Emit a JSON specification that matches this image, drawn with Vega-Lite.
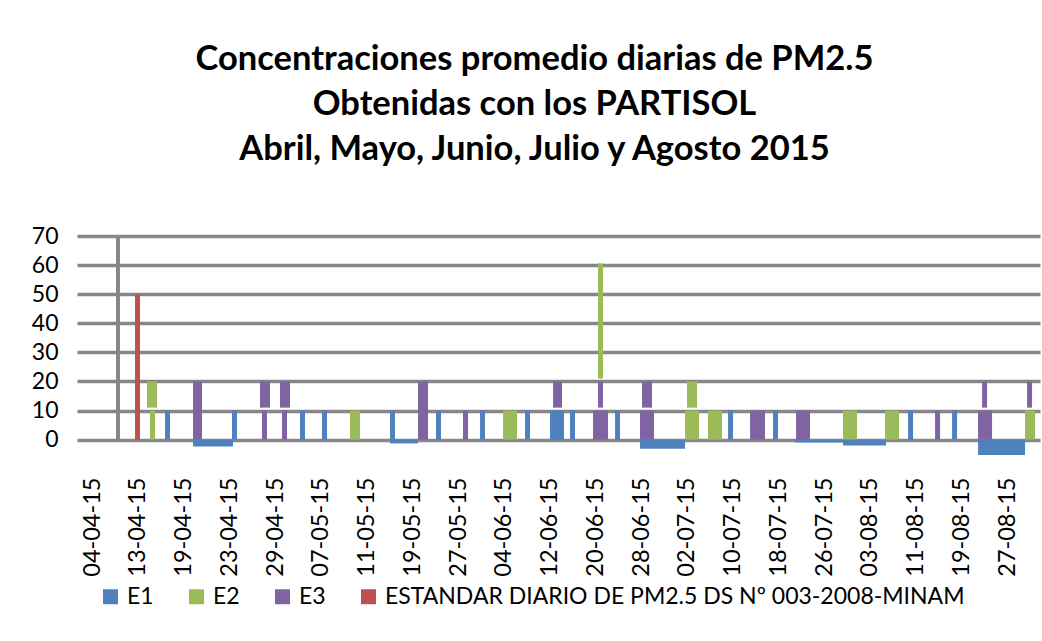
{
  "$schema": "https://vega.github.io/schema/vega-lite/v6.json",
  "autosize": "none",
  "width": 963,
  "height": 224,
  "padding": {"left": 77, "top": 236, "right": 2, "bottom": 181},
  "background": "white",
  "title": {
    "text": ["Concentraciones promedio diarias de PM2.5", "Obtenidas con los PARTISOL", "Abril, Mayo, Junio, Julio y Agosto 2015"],
    "font": "Lato",
    "fontWeight": "bold",
    "fontSize": 34.5,
    "lineHeight": 45,
    "color": "black",
    "anchor": "middle",
    "dx": -24,
    "offset": 58
  },
  "data": {
    "values": [
      {"serie": "ESTANDAR DIARIO DE PM2.5 DS Nº 003-2008-MINAM", "inicio": 0.94, "fin": 1.049, "bajo": 0, "alto": 50},
      {"serie": "E2", "inicio": 1.202, "fin": 1.421, "bajo": 11, "alto": 20},
      {"serie": "E2", "inicio": 1.268, "fin": 1.377, "bajo": 0, "alto": 10},
      {"serie": "E1", "inicio": 1.596, "fin": 1.705, "bajo": 0, "alto": 10},
      {"serie": "E3", "inicio": 2.208, "fin": 2.404, "bajo": 0, "alto": 20},
      {"serie": "E1", "inicio": 2.208, "fin": 3.082, "bajo": 0, "alto": -2.4},
      {"serie": "E1", "inicio": 3.06, "fin": 3.169, "bajo": 0, "alto": 10},
      {"serie": "E3", "inicio": 3.672, "fin": 3.891, "bajo": 11, "alto": 20},
      {"serie": "E3", "inicio": 3.716, "fin": 3.825, "bajo": 0, "alto": 10},
      {"serie": "E3", "inicio": 4.109, "fin": 4.328, "bajo": 11, "alto": 20},
      {"serie": "E3", "inicio": 4.153, "fin": 4.262, "bajo": 0, "alto": 10},
      {"serie": "E1", "inicio": 4.546, "fin": 4.656, "bajo": 0, "alto": 10},
      {"serie": "E1", "inicio": 5.027, "fin": 5.137, "bajo": 0, "alto": 10},
      {"serie": "E2", "inicio": 5.639, "fin": 5.858, "bajo": 0, "alto": 10},
      {"serie": "E1", "inicio": 6.514, "fin": 6.623, "bajo": 0, "alto": 10},
      {"serie": "E1", "inicio": 6.514, "fin": 7.126, "bajo": 0, "alto": -1.3},
      {"serie": "E3", "inicio": 7.126, "fin": 7.344, "bajo": 0, "alto": 20},
      {"serie": "E1", "inicio": 7.519, "fin": 7.628, "bajo": 0, "alto": 10},
      {"serie": "E3", "inicio": 8.109, "fin": 8.219, "bajo": 0, "alto": 10},
      {"serie": "E1", "inicio": 8.481, "fin": 8.59, "bajo": 0, "alto": 10},
      {"serie": "E2", "inicio": 8.984, "fin": 9.29, "bajo": 0, "alto": 10},
      {"serie": "E1", "inicio": 9.464, "fin": 9.574, "bajo": 0, "alto": 10},
      {"serie": "E3", "inicio": 10.077, "fin": 10.273, "bajo": 11, "alto": 20},
      {"serie": "E1", "inicio": 10.011, "fin": 10.317, "bajo": 0, "alto": 10},
      {"serie": "E1", "inicio": 10.448, "fin": 10.557, "bajo": 0, "alto": 10},
      {"serie": "E2", "inicio": 11.06, "fin": 11.169, "bajo": 21, "alto": 60.6},
      {"serie": "E3", "inicio": 11.06, "fin": 11.169, "bajo": 11, "alto": 20},
      {"serie": "E3", "inicio": 10.951, "fin": 11.279, "bajo": 0, "alto": 10},
      {"serie": "E1", "inicio": 11.432, "fin": 11.541, "bajo": 0, "alto": 10},
      {"serie": "E3", "inicio": 12.022, "fin": 12.24, "bajo": 11, "alto": 20},
      {"serie": "E3", "inicio": 11.978, "fin": 12.284, "bajo": 0, "alto": 10},
      {"serie": "E1", "inicio": 11.978, "fin": 12.962, "bajo": 0, "alto": -3.1},
      {"serie": "E2", "inicio": 13.005, "fin": 13.224, "bajo": 11, "alto": 20},
      {"serie": "E2", "inicio": 12.962, "fin": 13.268, "bajo": 0, "alto": 10},
      {"serie": "E2", "inicio": 13.464, "fin": 13.77, "bajo": 0, "alto": 10},
      {"serie": "E1", "inicio": 13.902, "fin": 14.011, "bajo": 0, "alto": 10},
      {"serie": "E3", "inicio": 14.383, "fin": 14.71, "bajo": 0, "alto": 10},
      {"serie": "E1", "inicio": 14.885, "fin": 14.995, "bajo": 0, "alto": 10},
      {"serie": "E1", "inicio": 15.366, "fin": 16.415, "bajo": 0, "alto": -1},
      {"serie": "E3", "inicio": 15.388, "fin": 15.694, "bajo": 0, "alto": 10},
      {"serie": "E2", "inicio": 16.415, "fin": 16.721, "bajo": 0, "alto": 10},
      {"serie": "E1", "inicio": 16.415, "fin": 17.355, "bajo": 0, "alto": -2},
      {"serie": "E2", "inicio": 17.333, "fin": 17.639, "bajo": 0, "alto": 10},
      {"serie": "E1", "inicio": 17.836, "fin": 17.945, "bajo": 0, "alto": 10},
      {"serie": "E3", "inicio": 18.426, "fin": 18.536, "bajo": 0, "alto": 10},
      {"serie": "E1", "inicio": 18.798, "fin": 18.907, "bajo": 0, "alto": 10},
      {"serie": "E3", "inicio": 19.454, "fin": 19.563, "bajo": 11, "alto": 20},
      {"serie": "E3", "inicio": 19.366, "fin": 19.672, "bajo": 0, "alto": 10},
      {"serie": "E1", "inicio": 19.366, "fin": 20.393, "bajo": 0, "alto": -5.3},
      {"serie": "E3", "inicio": 20.437, "fin": 20.546, "bajo": 11, "alto": 20},
      {"serie": "E2", "inicio": 20.393, "fin": 20.612, "bajo": 0, "alto": 10}
    ]
  },
  "layer": [
    {
      "mark": {"type": "bar", "clip": false},
      "encoding": {
        "x": {
          "field": "inicio",
          "type": "quantitative",
          "scale": {"domain": [-0.328, 20.72], "nice": false, "zero": false},
          "axis": {
            "values": [0,1,2,3,4,5,6,7,8,9,10,11,12,13,14,15,16,17,18,19,20],
            "labelExpr": "['04-04-15','13-04-15','19-04-15','23-04-15','29-04-15','07-05-15','11-05-15','19-05-15','27-05-15','04-06-15','12-06-15','20-06-15','28-06-15','02-07-15','10-07-15','18-07-15','26-07-15','03-08-15','11-08-15','19-08-15','27-08-15'][datum.value]",
            "labelAngle": 270,
            "labelAlign": "right",
            "labelBaseline": "middle",
            "labelPadding": 17,
            "labelFont": "Lato",
            "labelFontSize": 23.5,
            "labelColor": "black",
            "labelOverlap": false,
            "grid": false,
            "domain": false,
            "ticks": false,
            "title": null
          }
        },
        "x2": {"field": "fin"},
        "y": {
          "field": "bajo",
          "type": "quantitative",
          "scale": {"domain": [-7, 70], "nice": false, "zero": false},
          "axis": {
            "values": [0,10,20,30,40,50,60,70],
            "tickCount": 8,
            "labelPadding": 19,
            "labelFont": "Lato",
            "labelFontSize": 23,
            "labelColor": "black",
            "labelOverlap": false,
            "grid": true,
            "gridColor": "#878787",
            "gridWidth": 3.5,
            "domain": false,
            "ticks": false,
            "title": null
          }
        },
        "y2": {"field": "alto"},
        "color": {
          "field": "serie",
          "type": "nominal",
          "scale": {
            "domain": ["E1", "E2", "E3", "ESTANDAR DIARIO DE PM2.5 DS Nº 003-2008-MINAM"],
            "range": ["#4F81BD", "#9BBB59", "#8064A2", "#C0504D"]
          },
          "legend": {
            "orient": "none",
            "legendX": 22,
            "legendY": 349,
            "direction": "horizontal",
            "title": null,
            "symbolType": "square",
            "symbolSize": 225,
            "symbolStrokeWidth": 0,
            "labelFont": "Lato",
            "labelFontSize": 23,
            "labelColor": "black",
            "labelLimit": 0,
            "labelOffset": 5,
            "columnPadding": 31
          }
        }
      }
    },
    {
      "mark": {"type": "rule", "color": "#878787", "strokeWidth": 2.5},
      "encoding": {
        "x": {"datum": 0.568, "type": "quantitative"},
        "y": {
          "datum": 0,
          "type": "quantitative",
          "axis": {
            "values": [0,10,20,30,40,50,60,70],
            "tickCount": 8,
            "labelPadding": 19,
            "labelFont": "Lato",
            "labelFontSize": 23,
            "labelColor": "black",
            "labelOverlap": false,
            "grid": true,
            "gridColor": "#878787",
            "gridWidth": 3.5,
            "domain": false,
            "ticks": false,
            "title": null
          }
        },
        "y2": {"datum": 70}
      }
    }
  ],
  "config": {
    "view": {"stroke": null}
  }
}
